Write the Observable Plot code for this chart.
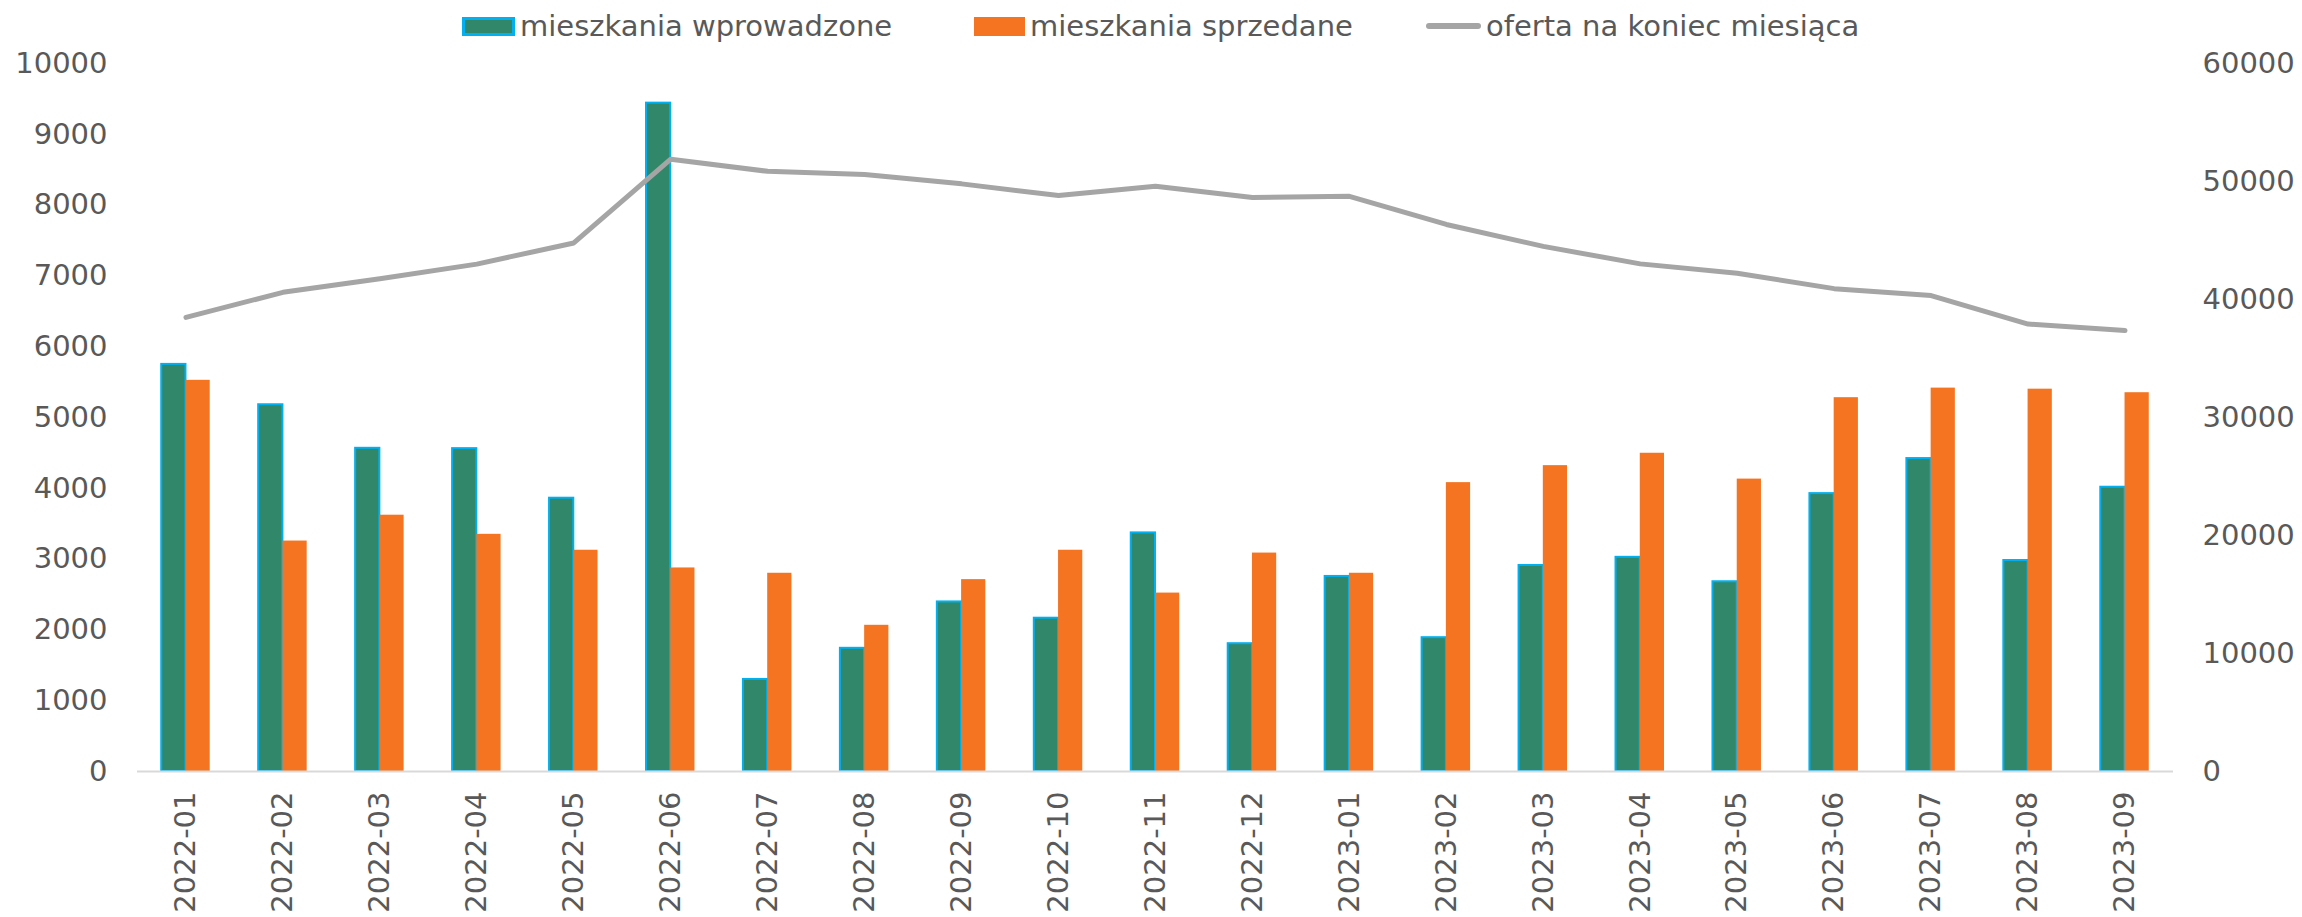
<!DOCTYPE html>
<html>
<head>
<meta charset="utf-8">
<script src="https://cdn.jsdelivr.net/npm/d3@7"></script>
<script src="https://cdn.jsdelivr.net/npm/@observablehq/plot@0.6"></script>
<style>
  body { margin: 0; background: #fff; width: 2302px; height: 917px; overflow: hidden; }
  #legend { position: relative; height: 45px; font-family: "DejaVu Sans", sans-serif; font-size: 29px; color: #595959; }
  #legend .it { position: absolute; top: 0; height: 45px; display: flex; align-items: center; padding-top: 7px; box-sizing: border-box; white-space: nowrap; }
  #legend .sw { display: inline-block; margin-right: 5px; box-sizing: border-box; }
</style>
</head>
<body>
<div id="legend"></div>
<div id="chart"></div>
<script>
const months = ["2022-01","2022-02","2022-03","2022-04","2022-05","2022-06","2022-07","2022-08","2022-09","2022-10","2022-11","2022-12","2023-01","2023-02","2023-03","2023-04","2023-05","2023-06","2023-07","2023-08","2023-09"];
const introduced = [5750, 5180, 4565, 4560, 3860, 9440, 1300, 1740, 2395, 2165, 3370, 1805, 2755, 1890, 2910, 3025, 2680, 3925, 4420, 2980, 4015];
const sold = [5525, 3255, 3620, 3350, 3125, 2875, 2800, 2065, 2710, 3125, 2520, 3085, 2800, 4080, 4320, 4495, 4130, 5280, 5415, 5400, 5350];
const offer = [38480, 40610, 41750, 43000, 44790, 51890, 50860, 50590, 49800, 48810, 49600, 48650, 48740, 46360, 44500, 43020, 42220, 40920, 40330, 37920, 37370];
const leftTicks = [0, 1000, 2000, 3000, 4000, 5000, 6000, 7000, 8000, 9000, 10000];
const rightTicks = [0, 10000, 20000, 30000, 40000, 50000, 60000];
const seriesNames = ["mieszkania wprowadzone", "mieszkania sprzedane", "oferta na koniec miesiąca"];

const ratio = 6; // right axis max / left axis max
const rows = months.map((m, i) => ({month: m, introduced: introduced[i], sold: sold[i], offer: offer[i] / ratio}));

// legend
const legend = document.getElementById("legend");
const items = [
  {left: 462, sw: "width:53px;height:19px;background:#31876a;border:3px solid #00b0f0;"},
  {left: 974, sw: "width:51px;height:19px;background:#f47421;"},
  {left: 1426, sw: "width:55px;height:6px;background:#a5a5a5;border-radius:3px;"}
];
items.forEach((it, i) => {
  const d = document.createElement("div");
  d.className = "it";
  d.style.left = it.left + "px";
  const s = document.createElement("span");
  s.className = "sw";
  s.style.cssText = it.sw;
  d.appendChild(s);
  d.appendChild(document.createTextNode(seriesNames[i]));
  legend.appendChild(d);
});

const fmt = d3.format("d");
const chart = Plot.plot({
  width: 2302,
  height: 872,
  marginTop: 18,
  marginBottom: 146,
  marginLeft: 137,
  marginRight: 129,
  style: {fontFamily: "DejaVu Sans, sans-serif", fontSize: "29px", color: "#595959", background: "white"},
  x: {domain: months, paddingInner: 0.5, paddingOuter: 0.25, align: 0.5, round: false, axis: null, label: null},
  y: {domain: [0, 10000], axis: null, label: null},
  marks: [
    Plot.axisY(leftTicks, {anchor: "left", tickSize: 0, tickPadding: 30, tickFormat: fmt, fill: "#595959"}),
    Plot.axisY(rightTicks.map(v => v / ratio), {anchor: "right", tickSize: 0, tickPadding: 29, tickFormat: d => fmt(Math.round(d * ratio)), fill: "#595959"}),
    Plot.axisX({anchor: "bottom", tickSize: 0, tickPadding: 20, tickRotate: -90, fill: "#595959"}),
    Plot.barY(rows, {x: "month", y: "introduced", fill: "#31876a", stroke: "#00b0f0", strokeWidth: 2, insetRight: 24.25}),
    Plot.barY(rows, {x: "month", y: "sold", fill: "#f47421", insetLeft: 24.25}),
    Plot.ruleY([0], {stroke: "#d9d9d9", strokeWidth: 2}),
    Plot.line(rows, {x: "month", y: "offer", stroke: "#a5a5a5", strokeWidth: 5, strokeLinecap: "round", strokeLinejoin: "round"})
  ]
});
document.getElementById("chart").appendChild(chart);
</script>
</body>
</html>
